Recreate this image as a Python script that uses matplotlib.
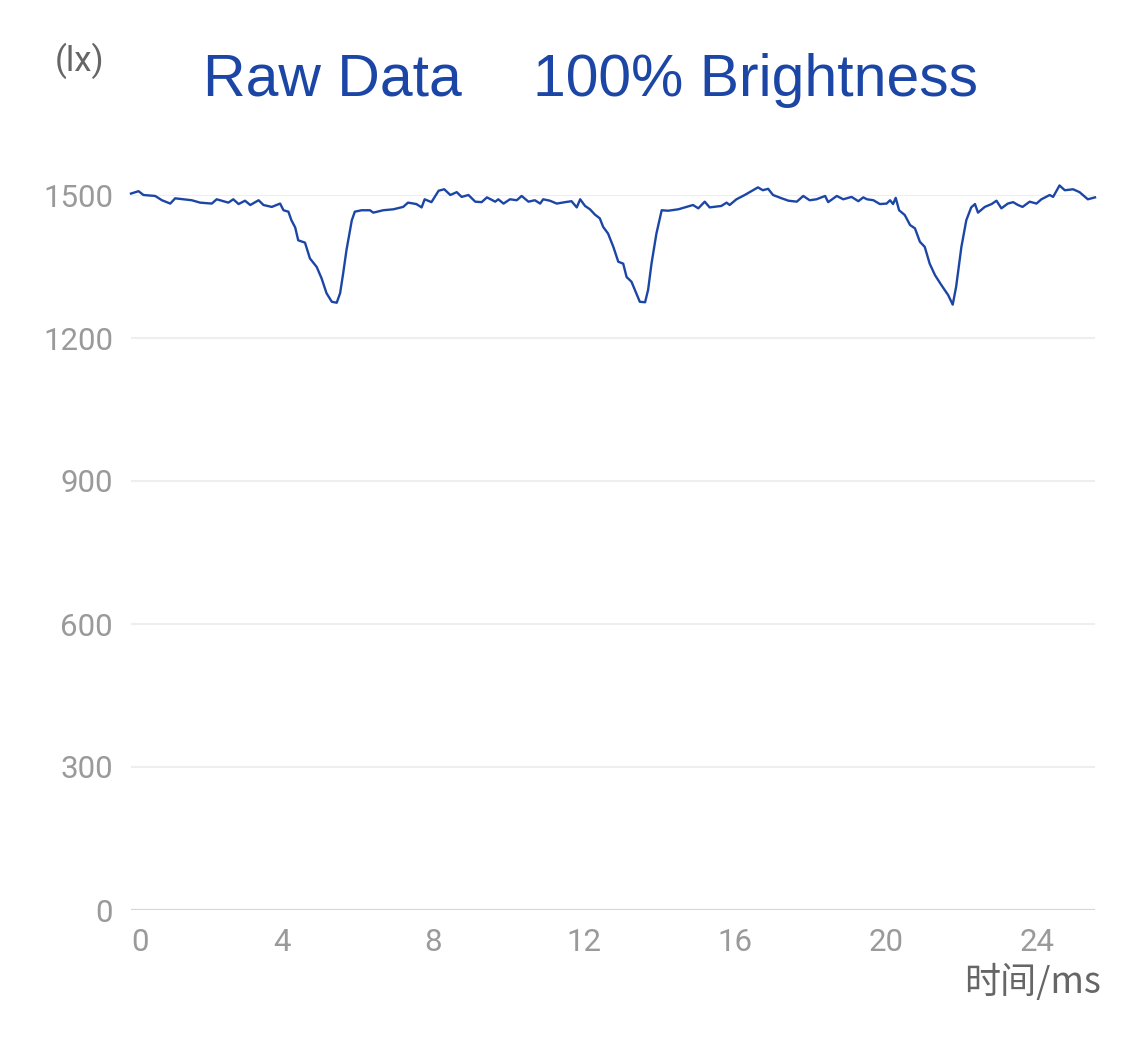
import matplotlib
matplotlib.use("Agg")
import matplotlib.pyplot as plt

# time (ms) and illuminance (lx)
t_ms = [0.00, 0.20, 0.33, 0.64, 0.82, 1.04, 1.17, 1.61, 1.83, 2.14, 2.27, 2.58, 2.71, 2.85,
        3.02, 3.16, 3.38, 3.51, 3.73, 3.95, 4.04, 4.17, 4.25, 4.35, 4.43, 4.61, 4.74, 4.92,
        5.05, 5.18, 5.32, 5.45, 5.54, 5.62, 5.71, 5.85, 5.93, 6.11, 6.33, 6.42, 6.68, 6.95,
        7.21, 7.34, 7.56, 7.70, 7.78, 7.96, 8.15, 8.30, 8.46, 8.63, 8.76, 8.94, 9.12, 9.29,
        9.43, 9.65, 9.73, 9.87, 10.04, 10.22, 10.35, 10.53, 10.70, 10.84, 10.92, 11.10, 11.28,
        11.50, 11.67, 11.81, 11.90, 12.03, 12.16, 12.29, 12.42, 12.51, 12.64, 12.78, 12.91,
        13.04, 13.13, 13.26, 13.35, 13.48, 13.62, 13.70, 13.79, 13.92, 14.06, 14.23, 14.50,
        14.67, 14.89, 15.03, 15.20, 15.33, 15.64, 15.78, 15.86, 16.04, 16.26, 16.39, 16.61,
        16.74, 16.88, 17.01, 17.24, 17.42, 17.64, 17.81, 17.98, 18.16, 18.39, 18.47, 18.70,
        18.87, 19.09, 19.27, 19.40, 19.50, 19.67, 19.84, 20.02, 20.11, 20.19, 20.26, 20.35,
        20.50, 20.64, 20.77, 20.90, 21.03, 21.16, 21.30, 21.47, 21.65, 21.77, 21.86, 22.00,
        22.13, 22.26, 22.36, 22.44, 22.62, 22.80, 22.93, 23.06, 23.23, 23.37, 23.50, 23.62,
        23.81, 23.99, 24.12, 24.34, 24.43, 24.60, 24.74, 24.96, 25.13, 25.35, 25.54]
lux = [1503, 1508, 1500, 1498, 1489, 1482, 1493, 1489, 1484, 1482, 1491, 1484, 1491, 1481,
       1488, 1479, 1489, 1479, 1475, 1482, 1468, 1465, 1447, 1432, 1405, 1400, 1367, 1349,
       1325, 1294, 1276, 1274, 1294, 1335, 1385, 1447, 1465, 1468, 1468, 1463, 1468, 1470,
       1475, 1484, 1481, 1474, 1491, 1485, 1509, 1512, 1500, 1506, 1496, 1500, 1486, 1485,
       1495, 1486, 1491, 1482, 1491, 1489, 1498, 1486, 1489, 1482, 1491, 1488, 1482,
       1485, 1487, 1474, 1491, 1477, 1470, 1459, 1451, 1433, 1419, 1391, 1360,
       1356, 1328, 1318, 1301, 1276, 1275, 1301, 1356, 1419, 1468, 1467, 1470,
       1474, 1479, 1472, 1486, 1474, 1477, 1484, 1479, 1491, 1500, 1506, 1516,
       1510, 1513, 1500, 1493, 1488, 1486, 1498, 1489, 1491, 1498, 1485, 1498,
       1491, 1496, 1487, 1495, 1491, 1489, 1481, 1482, 1489, 1481, 1494, 1468,
       1458, 1437, 1430, 1402, 1391, 1356, 1332, 1311, 1290, 1270, 1307, 1391,
       1447, 1474, 1481, 1463, 1475, 1481, 1488, 1472, 1482, 1485, 1479, 1475,
       1486, 1482, 1491, 1500, 1496, 1520, 1510, 1512, 1506, 1491, 1495]

x_ticks = [0, 4, 8, 12, 16, 20, 24]
y_ticks = [0, 300, 600, 900, 1200, 1500]

BLUE = "#1c46a6"
W, H = 1125, 1040
fig = plt.figure(figsize=(W / 100, H / 100), dpi=100)
ax = fig.add_axes([131 / W, 1 - 910 / H, (1095 - 131) / W, (910 - 195) / H])

ax.plot(t_ms, lux, color=BLUE, lw=1.7, clip_on=False, zorder=3, solid_joinstyle="round")
ax.set_xlim(0, 25.54)
ax.set_ylim(0, 1500)

for s in ax.spines.values():
    s.set_visible(False)
for v in y_ticks[1:]:
    ax.axhline(v, color="#eeeeee", lw=1.5, zorder=1)
ax.axhline(0, color="#d6d6d6", lw=1.6, zorder=2)

font = ["Roboto", "DejaVu Sans"]
ax.set_yticks(y_ticks)
ax.set_yticklabels([str(v) for v in y_ticks], family=font, fontsize=22.5, color="#9a9a9a")
ax.set_xticks(x_ticks)
xl = ax.set_xticklabels([str(v) for v in x_ticks], family=font, fontsize=22.5, color="#9a9a9a")
xl[0].set_ha("left")
ax.tick_params(axis="y", length=0, pad=13)
ax.tick_params(axis="x", length=0, pad=13)

fig.text(55 / W, 1 - 61 / H, "(lx)", family=font, fontsize=25, color="#666666",
         ha="left", va="center")
fig.text(1101 / W, 1 - 982 / H, "时间/ms", family=["Noto Sans CJK SC", "DejaVu Sans"],
         fontsize=26, color="#666666", ha="right", va="center")

tfont = ["Liberation Sans", "DejaVu Sans"]
fig.text(203 / W, 1 - 96 / H, "Raw Data", family=tfont, fontsize=42.4, color=BLUE,
         ha="left", va="baseline")
fig.text(533 / W, 1 - 96 / H, "100% Brightness", family=tfont, fontsize=42.4, color=BLUE,
         ha="left", va="baseline")

fig.savefig("out.png", dpi=100, facecolor="white")
